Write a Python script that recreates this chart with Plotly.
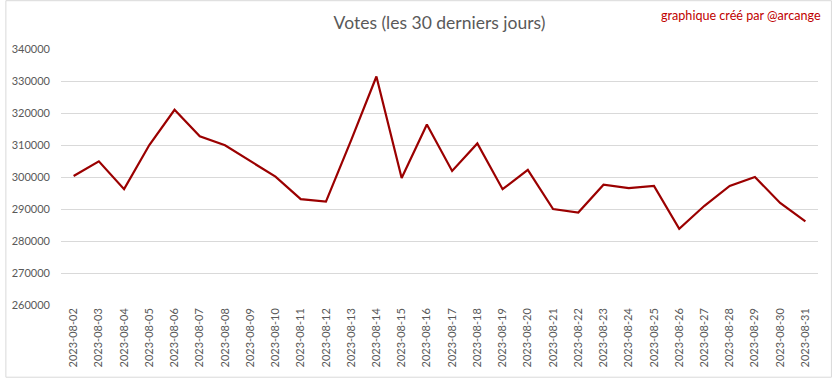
import plotly.graph_objects as go

dates = ["2023-08-%02d" % d for d in range(2, 32)]
votes = [300300, 304900, 296200, 310000, 321000, 312700, 309900, 305000, 300100, 293100,
         292300, 311500, 331400, 299700, 316400, 301900, 310500, 296200, 302200, 290000,
         288900, 297600, 296500, 297200, 283800, 291000, 297200, 300000, 291900, 286100]
y_ticks = [260000, 270000, 280000, 290000, 300000, 310000, 320000, 330000, 340000]

title_text = "Votes (les 30 derniers jours)"
credit_text = "graphique créé par @arcange"

FONT = "Lato, 'Open Sans', sans-serif"

fig = go.Figure()
fig.add_trace(go.Scatter(x=dates, y=votes, mode="lines",
                         line=dict(color="#9B0000", width=2.2), hoverinfo="x+y"))

W, H = 832, 379
ml, mr, mt, mb = 56, 14, 49, 73
pw, ph = W - ml - mr, H - mt - mb

fig.update_layout(
    width=W, height=H,
    margin=dict(l=ml, r=mr, t=mt, b=mb),
    paper_bgcolor="white", plot_bgcolor="white",
    showlegend=False,
    font=dict(family=FONT, color="#595959"),
    title=dict(text=title_text, x=0.5, xanchor="center", xref="paper",
               y=1 - 23 / H, yanchor="middle",
               font=dict(size=17.5, color="#595959", family=FONT)),
    xaxis=dict(type="category", tickangle=-90, tickfont=dict(size=11, color="#595959"),
               range=[-0.5, len(dates) - 0.5],
               showgrid=False, showline=False, ticks="", zeroline=False),
    yaxis=dict(range=[260000, 340000], tickvals=y_ticks, ticktext=[str(v) for v in y_ticks],
               tickfont=dict(size=11, color="#595959"), gridcolor="#D9D9D9", gridwidth=1,
               showline=False, zeroline=False, ticks="", ticklabelstandoff=10),
    annotations=[dict(text=credit_text, xref="paper", yref="paper",
                      x=(823 - ml) / pw, y=1 + (mt - 15) / ph, xanchor="right", yanchor="middle",
                      showarrow=False, font=dict(size=12.6, color="#C00000", family=FONT))],
    shapes=[dict(type="rect", xref="paper", yref="paper",
                 x0=(0.5 - ml) / pw, x1=(W - 0.5 - ml) / pw,
                 y0=-(mb - 0.5) / ph, y1=1 + (mt - 0.5) / ph,
                 line=dict(color="#D9D9D9", width=1), layer="below")],
)

fig.write_html("out.html", config={"displayModeBar": False},
               post_script="document.body.style.margin='0';document.body.style.padding='0';")
